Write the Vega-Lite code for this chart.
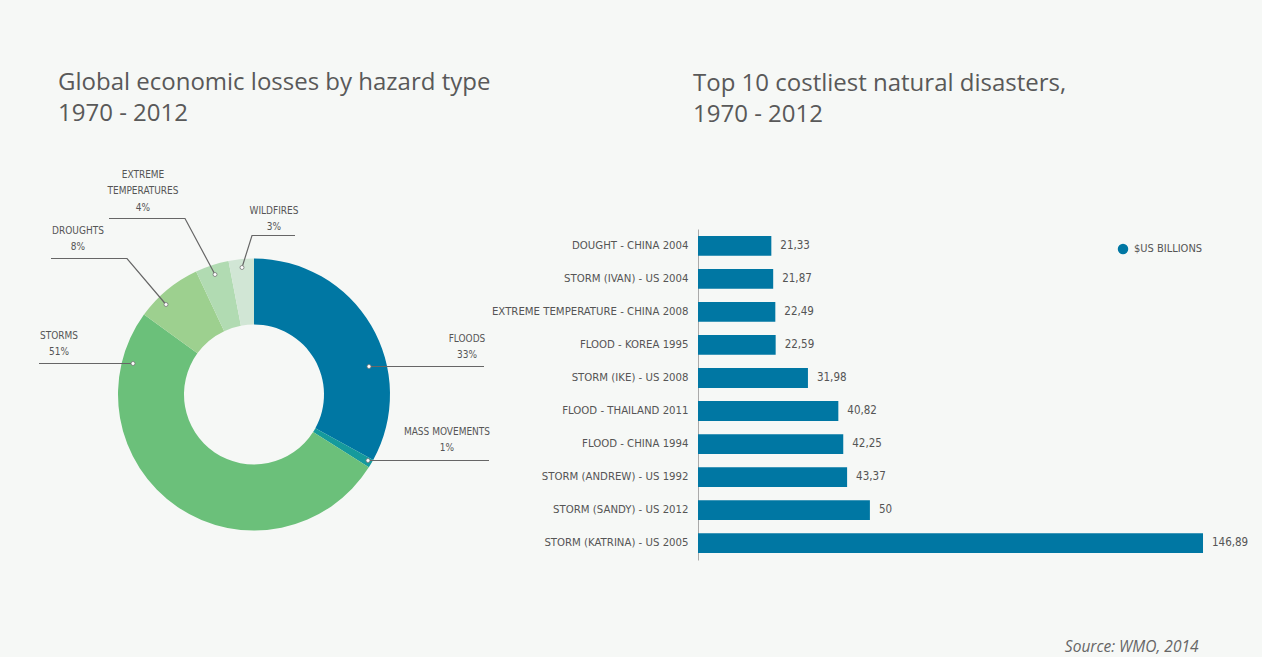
{
  "$schema": "https://vega.github.io/schema/vega-lite/v6.json",
  "description": "Global economic losses by hazard type and top 10 costliest natural disasters, 1970 - 2012",
  "background": "#f6f8f6",
  "padding": {"left": 19, "top": 70, "right": 21, "bottom": 10},
  "config": {
    "view": {"stroke": null},
    "font": "DejaVu Sans Condensed, Roboto, sans-serif",
    "locale": {"number": {"decimal": ",", "thousands": ".", "grouping": [3], "currency": ["$", ""]}},
    "title": {"font": "Open Sans", "fontSize": 24, "fontWeight": "normal", "color": "#595959", "anchor": "start", "frame": "group", "lineHeight": 31}
  },
  "datasets": {
    "hazards": [
      {"hazard": "Floods", "share": 33, "rank": 1},
      {"hazard": "Mass movements", "share": 1, "rank": 2},
      {"hazard": "Storms", "share": 51, "rank": 3},
      {"hazard": "Droughts", "share": 8, "rank": 4},
      {"hazard": "Extreme temperatures", "share": 4, "rank": 5},
      {"hazard": "Wildfires", "share": 3, "rank": 6}
    ],
    "leaders": [
      {"hazard": "Floods", "step": 0, "x": 115, "y": 28},
      {"hazard": "Floods", "step": 1, "x": 230, "y": 28},
      {"hazard": "Mass movements", "step": 0, "x": 114, "y": -66},
      {"hazard": "Mass movements", "step": 1, "x": 235, "y": -66},
      {"hazard": "Storms", "step": 0, "x": -121, "y": 31},
      {"hazard": "Storms", "step": 1, "x": -215, "y": 31},
      {"hazard": "Droughts", "step": 0, "x": -88, "y": 90},
      {"hazard": "Droughts", "step": 1, "x": -127, "y": 136},
      {"hazard": "Droughts", "step": 2, "x": -203, "y": 136},
      {"hazard": "Extreme temperatures", "step": 0, "x": -39, "y": 120},
      {"hazard": "Extreme temperatures", "step": 1, "x": -69, "y": 176},
      {"hazard": "Extreme temperatures", "step": 2, "x": -145, "y": 176},
      {"hazard": "Wildfires", "step": 0, "x": -12, "y": 127},
      {"hazard": "Wildfires", "step": 1, "x": -2, "y": 159},
      {"hazard": "Wildfires", "step": 2, "x": 41, "y": 159}
    ],
    "labels": [
      {"hazard": "Floods", "text": "FLOODS\n33%", "x": 213, "y": 53},
      {"hazard": "Mass movements", "text": "MASS MOVEMENTS\n1%", "x": 193, "y": -40},
      {"hazard": "Storms", "text": "STORMS\n51%", "x": -195, "y": 56},
      {"hazard": "Droughts", "text": "DROUGHTS\n8%", "x": -176, "y": 161},
      {"hazard": "Extreme temperatures", "text": "EXTREME\nTEMPERATURES\n4%", "x": -111, "y": 217},
      {"hazard": "Wildfires", "text": "WILDFIRES\n3%", "x": 20, "y": 181}
    ],
    "disasters": [
      {"event": "DOUGHT - CHINA 2004", "loss": 21.33, "unit": "$US BILLIONS"},
      {"event": "STORM (IVAN) - US 2004", "loss": 21.87, "unit": "$US BILLIONS"},
      {"event": "EXTREME TEMPERATURE - CHINA 2008", "loss": 22.49, "unit": "$US BILLIONS"},
      {"event": "FLOOD - KOREA 1995", "loss": 22.59, "unit": "$US BILLIONS"},
      {"event": "STORM (IKE) - US 2008", "loss": 31.98, "unit": "$US BILLIONS"},
      {"event": "FLOOD - THAILAND 2011", "loss": 40.82, "unit": "$US BILLIONS"},
      {"event": "FLOOD - CHINA 1994", "loss": 42.25, "unit": "$US BILLIONS"},
      {"event": "STORM (ANDREW) - US 1992", "loss": 43.37, "unit": "$US BILLIONS"},
      {"event": "STORM (SANDY) - US 2012", "loss": 50, "unit": "$US BILLIONS"},
      {"event": "STORM (KATRINA) - US 2005", "loss": 146.89, "unit": "$US BILLIONS"}
    ]
  },
  "bounds": "flush",
  "spacing": 209,
  "resolve": {"scale": {"color": "independent"}, "legend": {"color": "independent"}},
  "hconcat": [
    {
      "width": 470,
      "height": 331,
      "title": {"text": ["Global economic losses by hazard type", "1970 - 2012"], "dx": 39, "offset": 44},
      "layer": [
        {
          "data": {"name": "hazards"},
          "mark": {"type": "arc", "innerRadius": 70, "outerRadius": 136},
          "encoding": {
            "theta": {"field": "share", "type": "quantitative", "stack": true},
            "order": {"field": "rank", "type": "quantitative"},
            "color": {
              "field": "hazard",
              "type": "nominal",
              "scale": {
                "domain": ["Floods", "Mass movements", "Storms", "Droughts", "Extreme temperatures", "Wildfires"],
                "range": ["#0077a3", "#159a9c", "#6bc07a", "#9dd08f", "#b1dbb2", "#d1e6d5"]
              },
              "legend": null
            }
          }
        },
        {
          "data": {"name": "leaders"},
          "mark": {"type": "line", "color": "#666666", "strokeWidth": 1.2},
          "encoding": {
            "x": {"field": "x", "type": "quantitative", "scale": {"domain": [-235, 235], "nice": false}, "axis": null},
            "y": {"field": "y", "type": "quantitative", "scale": {"domain": [-165.5, 165.5], "nice": false}, "axis": null},
            "detail": {"field": "hazard"},
            "order": {"field": "step", "type": "quantitative"}
          }
        },
        {
          "data": {"name": "leaders"},
          "transform": [{"filter": "datum.step == 0"}],
          "mark": {"type": "point", "filled": true, "fill": "white", "stroke": "#777777", "strokeWidth": 0.8, "size": 16, "opacity": 1},
          "encoding": {
            "x": {"field": "x", "type": "quantitative"},
            "y": {"field": "y", "type": "quantitative"}
          }
        },
        {
          "data": {"name": "labels"},
          "mark": {"type": "text", "align": "center", "baseline": "alphabetic", "lineBreak": "\n", "lineHeight": 16.8, "fontSize": 10, "color": "#555555"},
          "encoding": {
            "x": {"field": "x", "type": "quantitative"},
            "y": {"field": "y", "type": "quantitative"},
            "text": {"field": "text", "type": "nominal"}
          }
        }
      ]
    },
    {
      "width": 520,
      "height": 331,
      "data": {"name": "disasters"},
      "title": {"text": ["Top 10 costliest natural disasters,", "1970 - 2012"], "dx": -5, "offset": 102},
      "encoding": {
        "y": {
          "field": "event",
          "type": "nominal",
          "sort": null,
          "scale": {"paddingInner": 0.4, "paddingOuter": 0.21},
          "axis": {"title": null, "ticks": false, "grid": false, "domainColor": "#aaaaaa", "labelFontSize": 11.3, "labelColor": "#555555", "labelPadding": 10, "labelLimit": 300}
        },
        "x": {
          "field": "loss",
          "type": "quantitative",
          "scale": {"domain": [0, 151.25], "nice": false},
          "axis": {
            "labels": false, "ticks": false, "domain": false, "grid": false,
            "title": "Source: WMO, 2014",
            "titleFont": "Open Sans", "titleFontStyle": "italic", "titleFontWeight": "normal", "titleFontSize": 15.5, "titleColor": "#666666",
            "titleAnchor": null, "titleAlign": "right", "titleBaseline": "alphabetic", "titleX": 500, "titleY": 91
          }
        }
      },
      "layer": [
        {
          "mark": {"type": "bar"},
          "encoding": {
            "color": {
              "field": "unit",
              "type": "nominal",
              "scale": {"range": ["#0077a3"]},
              "legend": {"title": null, "orient": "none", "legendX": 419, "legendY": 14, "padding": 0, "symbolType": "circle", "symbolSize": 110, "symbolOpacity": 1, "labelFontSize": 11, "labelColor": "#555555", "labelOffset": 5}
            }
          }
        },
        {
          "mark": {"type": "text", "align": "left", "baseline": "middle", "dx": 9, "fontSize": 11.5, "color": "#555555"},
          "encoding": {"text": {"field": "loss", "type": "quantitative", "format": ".2~f"}}
        }
      ]
    }
  ]
}
